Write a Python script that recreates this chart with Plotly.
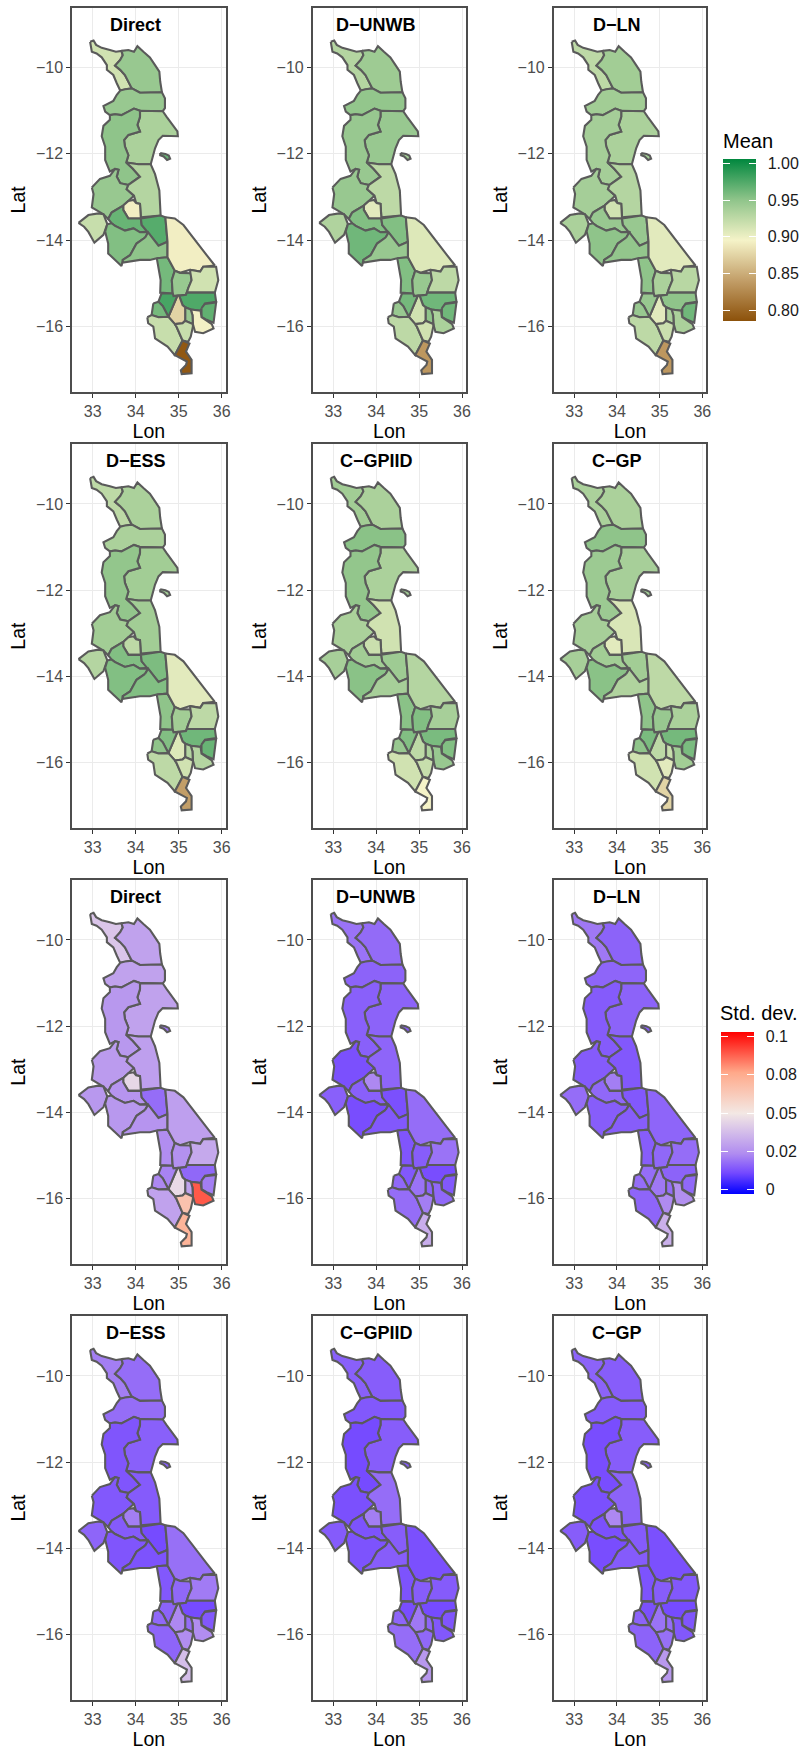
import plotly.graph_objects as go
from plotly.colors import sample_colorscale

# ---- district outlines (lon, lat) ----
CHITIPA = [(32.94,-9.40),(33.02,-9.37),(33.08,-9.47),(33.21,-9.54),(33.40,-9.59),(33.54,-9.63),(33.67,-9.61),(33.70,-9.71),(33.64,-9.82),(33.52,-9.95),(33.64,-10.05),(33.75,-10.17),(33.91,-10.48),(33.75,-10.50),(33.64,-10.53),(33.56,-10.36),(33.48,-10.17),(33.33,-10.05),(33.33,-9.94),(33.21,-9.76),(33.09,-9.67),(32.98,-9.63),(32.95,-9.51)]
KARONGA = [(33.67,-9.61),(33.83,-9.59),(33.96,-9.63),(34.04,-9.50),(34.18,-9.63),(34.33,-9.76),(34.45,-9.94),(34.55,-10.09),(34.57,-10.32),(34.61,-10.57),(34.10,-10.58),(33.91,-10.48),(33.75,-10.17),(33.64,-10.05),(33.52,-9.95),(33.64,-9.82),(33.70,-9.71)]
RUMPHI = [(33.64,-10.53),(33.75,-10.50),(33.91,-10.48),(34.10,-10.58),(34.61,-10.57),(34.68,-10.71),(34.68,-10.94),(34.63,-11.01),(34.10,-11.00),(33.96,-10.95),(33.83,-11.02),(33.67,-11.10),(33.52,-11.08),(33.40,-11.10),(33.29,-11.02),(33.25,-10.89),(33.48,-10.77),(33.56,-10.63)]
NKHATA_BAY = [(34.10,-11.00),(34.63,-11.01),(34.72,-11.14),(34.88,-11.35),(34.97,-11.48),(34.98,-11.59),(34.63,-11.58),(34.53,-11.68),(34.45,-11.87),(34.35,-12.24),(34.06,-12.24),(33.78,-12.20),(33.83,-12.03),(33.75,-11.83),(33.73,-11.68),(33.83,-11.56),(34.10,-11.48),(34.04,-11.33),(34.10,-11.14)]
MZIMBA = [(33.40,-11.10),(33.52,-11.08),(33.67,-11.10),(33.83,-11.02),(33.96,-10.95),(34.10,-11.00),(34.10,-11.14),(34.04,-11.33),(34.10,-11.48),(33.83,-11.56),(33.73,-11.68),(33.75,-11.83),(33.83,-12.03),(33.78,-12.20),(33.93,-12.34),(34.10,-12.53),(33.91,-12.65),(33.83,-12.72),(33.64,-12.68),(33.56,-12.53),(33.60,-12.37),(33.52,-12.35),(33.40,-12.41),(33.29,-12.14),(33.29,-11.83),(33.21,-11.59),(33.25,-11.35),(33.40,-11.21)]
LIKOMA = [(34.57,-11.98),(34.69,-12.00),(34.77,-12.04),(34.80,-12.11),(34.73,-12.14),(34.65,-12.06),(34.57,-12.03)]
KASUNGU = [(32.98,-12.78),(33.17,-12.58),(33.40,-12.51),(33.52,-12.35),(33.60,-12.37),(33.56,-12.53),(33.64,-12.68),(33.83,-12.72),(33.79,-12.82),(33.96,-12.97),(33.71,-13.20),(33.44,-13.36),(33.36,-13.51),(33.25,-13.40),(32.98,-13.24),(33.02,-12.93)]
NKHOTAKOTA = [(33.78,-12.20),(34.06,-12.24),(34.35,-12.24),(34.45,-12.47),(34.55,-12.85),(34.58,-13.43),(34.12,-13.47),(34.10,-13.16),(34.01,-13.14),(33.96,-12.97),(33.79,-12.82),(33.83,-12.72),(34.10,-12.53),(33.93,-12.34)]
NTCHISI = [(33.71,-13.20),(33.83,-13.09),(33.95,-13.07),(34.01,-13.14),(34.10,-13.16),(34.12,-13.50),(33.83,-13.50),(33.71,-13.30)]
DOWA = [(33.44,-13.36),(33.71,-13.20),(33.71,-13.30),(33.83,-13.50),(34.12,-13.50),(34.14,-13.65),(34.29,-13.80),(34.10,-13.82),(33.95,-13.73),(33.75,-13.78),(33.52,-13.67),(33.44,-13.61),(33.36,-13.51)]
SALIMA = [(34.12,-13.50),(34.58,-13.43),(34.69,-13.47),(34.74,-14.04),(34.53,-14.13),(34.29,-13.82),(34.14,-13.65)]
MCHINJI = [(32.67,-13.60),(32.90,-13.42),(33.13,-13.38),(33.25,-13.40),(33.34,-13.63),(33.25,-13.88),(33.04,-14.06),(32.90,-13.81),(32.80,-13.69)]
LILONGWE = [(33.29,-13.80),(33.34,-13.63),(33.44,-13.61),(33.52,-13.67),(33.75,-13.78),(33.95,-13.73),(34.10,-13.82),(34.29,-13.82),(34.22,-13.94),(34.02,-14.08),(33.87,-14.35),(33.70,-14.46),(33.67,-14.60),(33.52,-14.45),(33.36,-14.31),(33.36,-14.08)]
DEDZA = [(34.22,-13.94),(34.29,-13.82),(34.53,-14.13),(34.74,-14.04),(34.74,-14.40),(34.49,-14.42),(34.33,-14.46),(34.10,-14.46),(33.71,-14.52),(33.70,-14.46),(33.87,-14.35),(34.02,-14.08)]
NTCHEU = [(34.49,-14.42),(34.74,-14.40),(34.91,-14.71),(34.84,-14.93),(34.86,-15.24),(34.57,-15.22),(34.58,-14.93),(34.53,-14.66)]
MANGOCHI = [(34.69,-13.47),(34.91,-13.50),(35.11,-13.65),(35.34,-13.96),(35.65,-14.35),(35.84,-14.59),(35.57,-14.62),(35.50,-14.73),(35.26,-14.69),(35.03,-14.76),(34.91,-14.71),(34.74,-14.40),(34.74,-14.04)]
BALAKA = [(34.91,-14.71),(35.03,-14.76),(35.28,-14.77),(35.30,-14.93),(35.22,-15.12),(35.17,-15.27),(34.88,-15.30),(34.86,-15.24),(34.84,-14.93)]
MACHINGA = [(35.26,-14.69),(35.50,-14.73),(35.57,-14.62),(35.87,-14.62),(35.92,-14.93),(35.84,-15.22),(35.19,-15.22),(35.22,-15.12),(35.30,-14.93),(35.28,-14.77)]
ZOMBA = [(35.01,-15.29),(35.17,-15.27),(35.19,-15.22),(35.84,-15.22),(35.87,-15.43),(35.61,-15.47),(35.51,-15.64),(35.28,-15.61),(35.15,-15.56),(35.09,-15.51)]
PHALOMBE = [(35.53,-15.58),(35.61,-15.48),(35.87,-15.45),(35.81,-15.92),(35.65,-15.85),(35.53,-15.78)]
MULANJE = [(35.28,-15.61),(35.51,-15.64),(35.53,-15.79),(35.77,-15.95),(35.81,-16.05),(35.57,-16.16),(35.38,-16.13),(35.33,-15.95),(35.32,-15.74)]
CHIRADZULU = [(35.15,-15.56),(35.28,-15.61),(35.32,-15.74),(35.33,-15.95),(35.15,-15.87),(35.15,-15.70)]
BLANTYRE = [(34.91,-15.43),(34.97,-15.29),(35.01,-15.29),(35.09,-15.51),(35.15,-15.56),(35.15,-15.70),(35.15,-15.87),(35.09,-15.93),(34.91,-15.95),(34.76,-15.78)]
NENO = [(34.53,-15.43),(34.60,-15.24),(34.86,-15.24),(34.88,-15.30),(34.97,-15.29),(34.91,-15.43),(34.76,-15.78),(34.63,-15.53)]
MWANZA = [(34.41,-15.47),(34.53,-15.43),(34.63,-15.53),(34.76,-15.78),(34.53,-15.79),(34.37,-15.74)]
CHIKWAWA = [(34.27,-15.79),(34.37,-15.74),(34.53,-15.79),(34.76,-15.78),(34.91,-15.95),(34.95,-16.01),(35.09,-16.33),(34.91,-16.67),(34.74,-16.47),(34.45,-16.28),(34.41,-16.01),(34.29,-15.93)]
THYOLO = [(34.91,-15.95),(35.09,-15.93),(35.15,-15.87),(35.33,-15.95),(35.33,-16.01),(35.28,-16.24),(35.22,-16.36),(35.09,-16.33),(34.95,-16.01)]
NSANJE = [(35.09,-16.33),(35.25,-16.40),(35.17,-16.59),(35.30,-16.78),(35.30,-17.09),(35.07,-17.11),(35.05,-17.02),(35.17,-16.90),(35.19,-16.82),(34.91,-16.67)]

DISTRICTS = ["Chitipa","Karonga","Rumphi","Nkhata Bay","Mzimba","Likoma","Kasungu","Nkhotakota","Ntchisi","Dowa","Salima","Mchinji","Lilongwe","Dedza","Ntcheu","Mangochi","Balaka","Machinga","Zomba","Phalombe","Mulanje","Chiradzulu","Blantyre","Neno","Mwanza","Chikwawa","Thyolo","Nsanje"]
OUTLINES = [CHITIPA,KARONGA,RUMPHI,NKHATA_BAY,MZIMBA,LIKOMA,KASUNGU,NKHOTAKOTA,NTCHISI,DOWA,SALIMA,MCHINJI,LILONGWE,DEDZA,NTCHEU,MANGOCHI,BALAKA,MACHINGA,ZOMBA,PHALOMBE,MULANJE,CHIRADZULU,BLANTYRE,NENO,MWANZA,CHIKWAWA,THYOLO,NSANJE]

# ---- values per district, same order as DISTRICTS ----
MEAN_DIRECT = [.915,.945,.945,.935,.95,.965,.945,.93,.892,.965,.972,.92,.955,.95,.96,.892,.945,.915,.975,.968,.893,.945,.875,.978,.96,.92,.92,.79]
MEAN_UNWB = [.93,.942,.948,.945,.945,.94,.945,.925,.905,.955,.955,.932,.962,.945,.955,.908,.945,.925,.962,.962,.935,.95,.915,.96,.945,.925,.915,.835]
MEAN_LN = [.925,.94,.94,.935,.938,.94,.938,.93,.915,.945,.945,.935,.95,.948,.95,.905,.935,.928,.95,.962,.935,.935,.905,.945,.945,.925,.918,.835]
MEAN_ESS = [.925,.935,.935,.94,.948,.94,.94,.94,.925,.955,.957,.93,.955,.955,.95,.905,.94,.925,.962,.965,.93,.93,.908,.955,.95,.925,.915,.84]
MEAN_GPIID = [.94,.935,.952,.935,.948,.94,.935,.915,.918,.94,.942,.937,.952,.937,.952,.93,.955,.937,.958,.955,.945,.935,.925,.955,.945,.915,.92,.895]
MEAN_GP = [.935,.935,.95,.937,.943,.94,.937,.91,.905,.94,.94,.937,.952,.932,.95,.925,.945,.935,.96,.958,.94,.92,.925,.958,.95,.915,.905,.875]

SD_DIRECT = [.04,.03,.03,.03,.027,.02,.028,.029,.045,.026,.018,.027,.027,.026,.024,.029,.025,.032,.017,.021,.089,.03,.046,.022,.023,.03,.066,.072]
SD_UNWB = [.019,.0175,.016,.016,.0155,.015,.0125,.0165,.023,.0155,.0125,.0155,.012,.014,.0135,.018,.015,.019,.012,.014,.017,.016,.019,.014,.017,.018,.021,.033]
SD_LN = [.02,.016,.0165,.016,.0145,.015,.0145,.014,.021,.017,.014,.018,.015,.015,.015,.0165,.017,.018,.016,.017,.0245,.018,.02,.018,.018,.0165,.0235,.034]
SD_ESS = [.021,.018,.018,.0155,.0135,.015,.014,.0145,.021,.0145,.0115,.0165,.0135,.013,.014,.0185,.017,.0205,.0115,.014,.024,.018,.023,.016,.017,.0165,.024,.038]
SD_GPIID = [.0155,.015,.014,.015,.0115,.015,.0125,.018,.021,.013,.015,.0145,.013,.015,.013,.0125,.015,.0145,.0115,.0135,.014,.0165,.02,.012,.0165,.018,.017,.027]
SD_GP = [.016,.015,.0145,.015,.012,.015,.0125,.016,.023,.0125,.0145,.015,.012,.0145,.013,.0125,.015,.014,.0115,.0135,.014,.018,.019,.0125,.016,.016,.0185,.027]

TITLES = ["Direct","D\u2212UNWB","D\u2212LN","D\u2212ESS","C\u2212GPIID","C\u2212GP"]
MEAN_PANELS = [MEAN_DIRECT,MEAN_UNWB,MEAN_LN,MEAN_ESS,MEAN_GPIID,MEAN_GP]
SD_PANELS = [SD_DIRECT,SD_UNWB,SD_LN,SD_ESS,SD_GPIID,SD_GP]

MEAN_LIM = (0.785, 1.0055)
SD_LIM = (-0.0026, 0.103)
MEAN_STOPS = [(.785,"#8c510a"),(.84,"#c29e68"),(.895,"#f5f3c8"),(.95,"#8fc48a"),(1.0055,"#00873e")]
SD_STOPS = [(-.0026,"#0000ff"),(.0112,"#7549ff"),(.0237,"#b08cf0"),(.05,"#f3e8e4"),(.0765,"#ffa98a"),(.103,"#ff0000")]
MEAN_TICKS = [.8,.85,.9,.95,1.0]
MEAN_LABELS = ["\u20020.80","\u20020.85","\u20020.90","\u20020.95","\u20021.00"]
SD_TICKS = [0,.025,.05,.075,.1]
SD_LABELS = ["\u20020","\u20020.02","\u20020.05","\u20020.08","\u20020.1"]
LON_TICKS = [33,34,35,36]
LAT_TICKS = [-16,-14,-12,-10]

W, H = 801, 1750
COL_X = [(72,225.7),(312.7,466),(553.7,706.3)]
ROW_Y = [(7.7,392),(444,828.3),(880,1264.3),(1316,1700)]
LON_RANGE = [32.519,36.093]
LAT_RANGE = [-17.525,-8.608]
FONT = "Liberation Sans"
EDGE = "#5a5a5a"

def scale(stops, lim):
    return [[(v-lim[0])/(lim[1]-lim[0]), c] for v, c in stops]

MEAN_SCALE = scale(MEAN_STOPS, MEAN_LIM)
SD_SCALE = scale(SD_STOPS, SD_LIM)

fig = go.Figure()
layout = dict(width=W, height=H, margin=dict(l=0,r=0,t=0,b=0,autoexpand=False), template="none",
              paper_bgcolor="white", plot_bgcolor="white", showlegend=False,
              font=dict(family=FONT), hovermode="closest")
annotations = []

def panel(idx, row, col, values, cs, lim, title):
    n = "" if idx == 0 else str(idx+1)
    x0, x1 = COL_X[col]; y0, y1 = ROW_Y[row]
    common = dict(showgrid=True, gridcolor="#ebebeb", gridwidth=1, zeroline=False,
                  showline=True, mirror=True, linecolor="#4d4d4d", linewidth=1.5,
                  ticks="outside", ticklen=4, tickwidth=1.3, tickcolor="#333333",
                  tickfont=dict(family=FONT, size=16, color="#4d4d4d"))
    layout["xaxis"+n] = dict(domain=[x0/W,x1/W], range=LON_RANGE, tickmode="array", tickvals=LON_TICKS,
                             ticktext=[str(t) for t in LON_TICKS], anchor="y"+n,
                             title=dict(text="Lon", font=dict(family=FONT,size=19.5,color="black"), standoff=5), **common)
    layout["yaxis"+n] = dict(domain=[1-y1/H,1-y0/H], range=LAT_RANGE, tickmode="array", tickvals=LAT_TICKS,
                             anchor="x"+n,
                             title=dict(text="Lat", font=dict(family=FONT,size=19.5,color="black"), standoff=5), **common)
    for name, ring, v in zip(DISTRICTS, OUTLINES, values):
        t = (v-lim[0])/(lim[1]-lim[0])
        fc = sample_colorscale(cs, [t])[0]
        xs = [p[0] for p in ring]+[ring[0][0]]
        ys = [p[1] for p in ring]+[ring[0][1]]
        fig.add_trace(go.Scatter(x=xs, y=ys, mode="lines", fill="toself", fillcolor=fc,
                                 line=dict(color=EDGE, width=2.1), name=name, text=f"{name}: {v}",
                                 hoverinfo="text", hoveron="fills", xaxis="x"+n, yaxis="y"+n))
    annotations.append(dict(text=f"<b>{title}</b>", x=34, y=-9.0, xref="x"+n, yref="y"+n, showarrow=False,
                            xanchor="center", yanchor="middle", font=dict(family=FONT,size=18,color="black")))

for i in range(6):
    panel(i, i//3, i%3, MEAN_PANELS[i], MEAN_SCALE, MEAN_LIM, TITLES[i])
for i in range(6):
    panel(i+6, 2+i//3, i%3, SD_PANELS[i], SD_SCALE, SD_LIM, TITLES[i])

def color_legend(axis_main, axis_left, cs, lim, ticks, labels, xleft, xright, ytop, ybot, title, tx, ty):
    for axis, thick, x, showlab in [(axis_main, xright-xleft, xleft, True), (axis_left, 7, xleft, False)]:
        layout[axis] = dict(cmin=lim[0], cmax=lim[1], colorscale=cs, showscale=True,
            colorbar=dict(thicknessmode="pixels", thickness=thick, lenmode="pixels", len=ybot-ytop,
                          x=x/W, xanchor="left", xpad=0, y=1-ytop/H, yanchor="top", ypad=0,
                          outlinewidth=0, borderwidth=0, bgcolor="rgba(0,0,0,0)",
                          tickmode="array", tickvals=ticks, ticktext=labels, ticks="inside", ticklen=7,
                          tickwidth=1.2, tickcolor="white", showticklabels=showlab,
                          tickfont=dict(family=FONT, size=16, color="#1a1a1a")))
        fig.add_trace(go.Scatter(x=[34,34], y=[-9.2,-9.2], mode="markers", hoverinfo="skip",
                                 marker=dict(color=list(lim), coloraxis=axis, size=1, opacity=0)))
    annotations.append(dict(text=title, x=tx/W, y=1-ty/H, xref="paper", yref="paper", showarrow=False,
                            xanchor="left", yanchor="middle", font=dict(family=FONT,size=20,color="black")))

color_legend("coloraxis","coloraxis2",MEAN_SCALE,MEAN_LIM,MEAN_TICKS,MEAN_LABELS,723.3,756.7,159.3,321,"Mean",721,140.7)
color_legend("coloraxis3","coloraxis4",SD_SCALE,SD_LIM,SD_TICKS,SD_LABELS,720.7,753.3,1031.7,1193.3,"Std. dev.",717.7,1013)

layout["annotations"] = annotations
fig.update_layout(**layout)
fig.write_html("out.html", post_script="document.body.style.margin='0';", config={"displayModeBar": False})
